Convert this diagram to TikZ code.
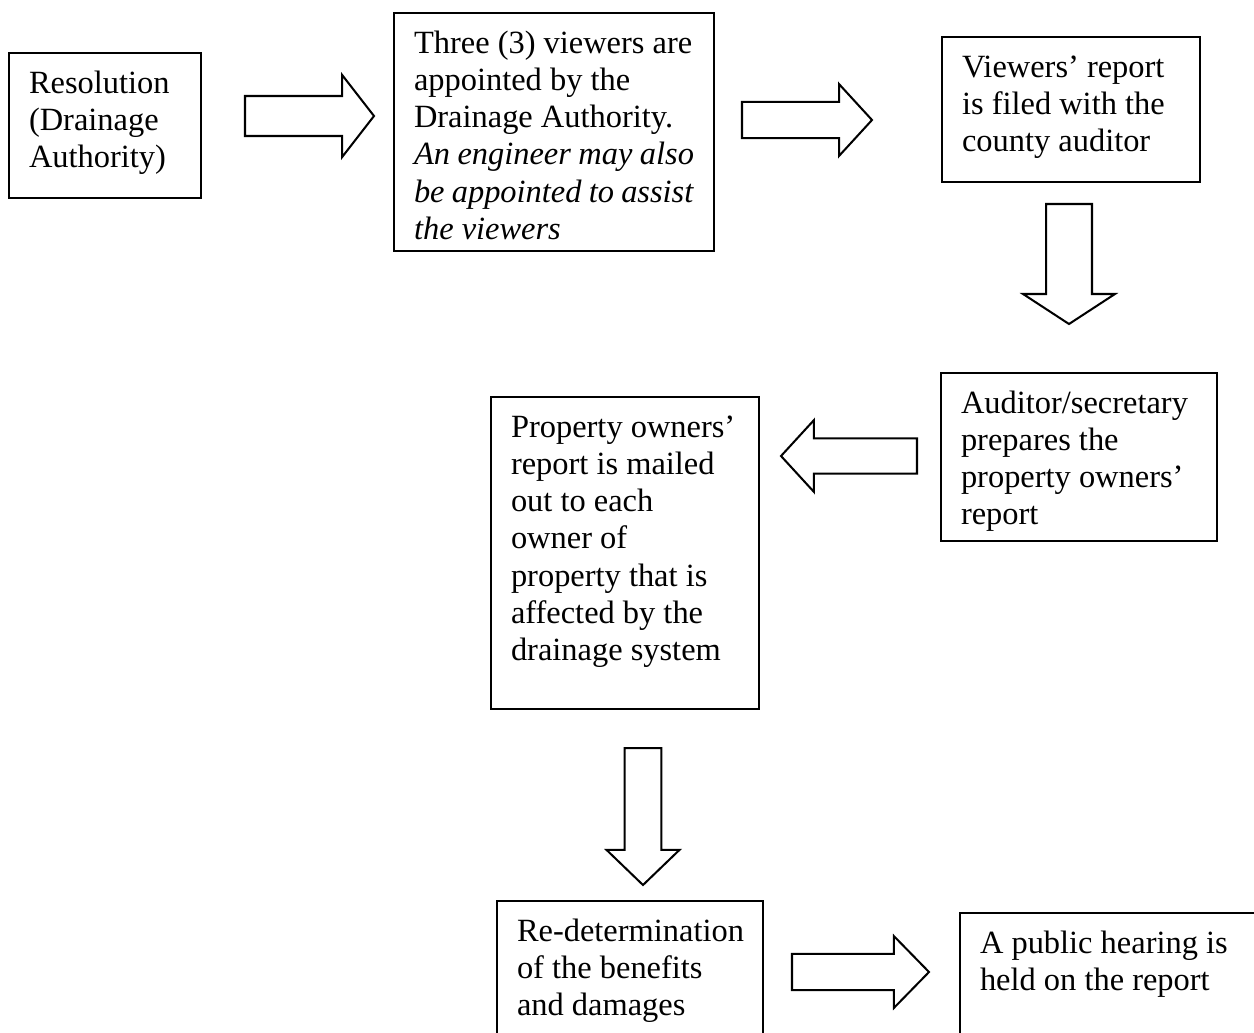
\documentclass[tikz,border=0pt]{standalone}
\usepackage{fontspec}
\setmainfont{Liberation Serif}
\usetikzlibrary{calc}
% top aligned text of a stage: height, width, text
\newcommand{\stagetext}[3]{\parbox[t][#1][t]{#2}{\strut#3}}
\tikzset{
  stage/.style={draw, line width=0.75pt, anchor=north west, inner xsep=7.4pt,
    inner ysep=5.14pt, font=\fontsize{12}{13.8}\selectfont},
  % hollow block arrow: shaft half width, head half width, head length
  blockarrow/.style n args={3}{draw, line width=0.75pt, to path={
    ($(\tikztostart)!#1!90:(\tikztotarget)$)
    -- ($($(\tikztotarget)!#3!(\tikztostart)$)!#1!-90:(\tikztostart)$)
    -- ($($(\tikztotarget)!#3!(\tikztostart)$)!#2!-90:(\tikztostart)$)
    -- (\tikztotarget)
    -- ($($(\tikztotarget)!#3!(\tikztostart)$)!#2!90:(\tikztostart)$)
    -- ($($(\tikztotarget)!#3!(\tikztostart)$)!#1!90:(\tikztostart)$)
    -- ($(\tikztostart)!#1!-90:(\tikztotarget)$)
    -- cycle}}
}
\begin{document}
\begin{tikzpicture}[x=0.37pt,y=-0.37pt]
\clip (0,0) rectangle (1254,1032);
% stages
\node[stage] (res) at (8,52) {\stagetext{43.37pt}{56.24pt}{Resolution\\
  (Drainage\\ Authority)}};
\node[stage] (view) at (393,12) {\stagetext{77.78pt}{103.6pt}{Three (3) viewers are\\
  appointed by the\\ Drainage Authority.\\ \textit{An engineer may also}\\
  \textit{be appointed to assist}\\ \textit{the viewers}}};
\node[stage] (filed) at (941,36) {\stagetext{43.37pt}{80.66pt}{Viewers’ report\\
  is filed with the\\ county auditor}};
\node[stage] (prep) at (940,372) {\stagetext{51.88pt}{87.3pt}{Auditor/secretary\\
  prepares the\\ property owners’\\ report}};
\node[stage] (mail) at (490,396) {\stagetext{105.16pt}{84.36pt}{Property owners’\\
  report is mailed\\ out to each\\ owner of\\ property that is\\
  affected by the\\ drainage system}};
\node[stage] (redet) at (496,900) {\stagetext{41.52pt}{83.6pt}{\mbox{Re-determination}\\
  of the benefits\\ and damages}};
\node[stage] (hear) at (959,912) {\stagetext{37.08pt}{95.83pt}{A public hearing is\\
  held on the report}};
% arrow ends
\coordinate (a1s) at (245,116); \coordinate (a1e) at (374,116);
\coordinate (a2s) at (742,120); \coordinate (a2e) at (872,120);
\coordinate (a3s) at (1069,204); \coordinate (a3e) at (1069,324);
\coordinate (a4s) at (917,456); \coordinate (a4e) at (781,456);
\coordinate (a5s) at (643,748); \coordinate (a5e) at (643,885);
\coordinate (a6s) at (792,972); \coordinate (a6e) at (929,972);
\draw[blockarrow={7.4pt}{15.2pt}{11.8pt}] (a1s) to (a1e);
\draw[blockarrow={6.7pt}{13.3pt}{12.2pt}] (a2s) to (a2e);
\draw[blockarrow={8.5pt}{17pt}{11.1pt}] (a3s) to (a3e);
\draw[blockarrow={6.5pt}{13.3pt}{12.2pt}] (a4s) to (a4e);
\draw[blockarrow={6.8pt}{13.5pt}{13pt}] (a5s) to (a5e);
\draw[blockarrow={6.7pt}{13.3pt}{13pt}] (a6s) to (a6e);
\end{tikzpicture}
\end{document}
